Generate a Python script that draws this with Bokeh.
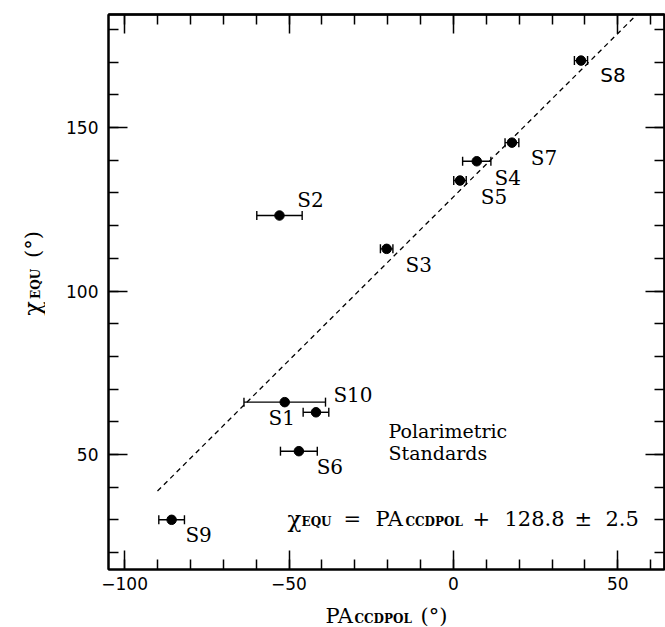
import math
import numpy as np
from bokeh.plotting import figure
from bokeh.layouts import column, row
from bokeh.models import (ColumnDataSource, Whisker, TeeHead, Label, LinearAxis,
                          FixedTicker, Range1d)
from bokeh.core.properties import value
from bokeh.embed import file_html
from bokeh.resources import INLINE

# ---------------- data ----------------
names = ["S1", "S2", "S3", "S4", "S5", "S6", "S7", "S8", "S9", "S10"]
pa_ccdpol = [-51.3, -52.9, -20.3, 7.1, 2.0, -47.0, 17.8, 38.8, -85.7, -41.8]
chi_equ = [66.0, 123.1, 112.9, 139.7, 133.8, 51.0, 145.4, 170.5, 30.0, 62.9]
pa_err = [12.4, 6.9, 1.9, 4.3, 1.9, 5.6, 2.1, 2.0, 3.9, 3.9]

fit_offset = 128.8
fit_err = 2.5
fit_pa = [-90.0, 70.0]

x_ticks = [-100, -50, 0, 50]
x_tick_labels = ["\u2212100", "\u221250", "0", "50"]
x_minor = list(range(-100, 70, 10))
y_ticks = [50, 100, 150]
y_tick_labels = ["50", "100", "150"]
y_minor = list(range(20, 190, 10))

XR = (-104.9, 64.2)
YR = (14.8, 184.6)

# ---------------- layout (canvas pixels) ----------------
W, H = 665, 627
YT_W = 45            # width of the y-title strip
MAIN_H = 597         # height of the main figure
FL, FR, FT, FB = 108, 664, 14, 569

def dx(px):
    return XR[0] + (px - FL) / (FR - FL) * (XR[1] - XR[0])

def dy(py):
    return YR[1] - (py - FT) / (FB - FT) * (YR[1] - YR[0])

SERIF = "DejaVu Serif"
SANS = "DejaVu Sans"

p = figure(width=W - YT_W, height=MAIN_H, output_backend="svg", toolbar_location=None,
           x_range=Range1d(*XR), y_range=Range1d(*YR),
           min_border_left=FL - YT_W, min_border_right=W - FR,
           min_border_top=FT, min_border_bottom=MAIN_H - FB)
p.grid.visible = False
p.outline_line_color = "black"
p.outline_line_width = 2
p.background_fill_color = "white"
p.border_fill_color = "white"

def style_axis(ax):
    ax.axis_line_color = "black"
    ax.axis_line_width = 2
    ax.major_tick_in = 19
    ax.major_tick_out = 0
    ax.minor_tick_in = 10
    ax.minor_tick_out = 0
    ax.major_tick_line_width = 1.5
    ax.minor_tick_line_width = 1.5
    ax.major_tick_line_color = "black"
    ax.minor_tick_line_color = "black"
    ax.major_label_text_font = SANS
    ax.major_label_text_font_size = "17px"
    ax.major_label_text_color = "black"

xa = p.xaxis[0]
xa.ticker = FixedTicker(ticks=x_ticks, minor_ticks=x_minor)
xa.major_label_overrides = {t: l for t, l in zip(x_ticks, x_tick_labels)}
style_axis(xa)
xa.major_label_standoff = 7

ya = p.yaxis[0]
ya.ticker = FixedTicker(ticks=y_ticks, minor_ticks=y_minor)
ya.major_label_overrides = {t: l for t, l in zip(y_ticks, y_tick_labels)}
style_axis(ya)
ya.major_label_standoff = 10

# tick-only axes on top and right (no labels): one for minor, one for major ticks
for side, majors, minors in (("above", x_ticks, x_minor), ("right", y_ticks, y_minor)):
    for tick_list, length in ((minors, 10), (majors, 19)):
        ax = LinearAxis(ticker=FixedTicker(ticks=[], minor_ticks=tick_list))
        ax.axis_line_color = "black"
        ax.axis_line_width = 2
        ax.major_tick_in = 0
        ax.major_tick_out = 0
        ax.minor_tick_in = length
        ax.minor_tick_out = 0
        ax.minor_tick_line_width = 1.5
        ax.minor_tick_line_color = "black"
        ax.major_label_standoff = 0
        p.add_layout(ax, side)

# ---------------- fit line ----------------
fx = np.array(fit_pa)
p.line(fx, fx + fit_offset, line_color="black", line_width=1.3, line_dash="5 4")

# ---------------- points with error bars ----------------
xs = np.array(pa_ccdpol)
ys = np.array(chi_equ)
es = np.array(pa_err)
src = ColumnDataSource(dict(x=xs, y=ys, lo=xs - es, hi=xs + es, name=names))
wh = Whisker(source=src, base="y", lower="lo", upper="hi", dimension="width",
             line_color="black", line_width=1.4,
             upper_head=TeeHead(size=9, line_color="black", line_width=1.4),
             lower_head=TeeHead(size=9, line_color="black", line_width=1.4))
p.add_layout(wh)
p.scatter("x", "y", source=src, size=9.5, color="black")

# point labels (offsets in pixels)
lab_dx = [-3, 31, 32, 31, 34, 31, 32, 32, 27, 37]
lab_dy = [16, -16, 16, 17, 16, 16, 15, 14, 15, -17]
serif_idx = [i for i, n in enumerate(names) if n != "S8"]
sans_idx = [i for i, n in enumerate(names) if n == "S8"]
for idx, font in ((serif_idx, SERIF), (sans_idx, SANS)):
    lsrc = ColumnDataSource(dict(x=xs[idx], y=ys[idx], t=[names[i] for i in idx],
                                 ox=[lab_dx[i] for i in idx], oy=[lab_dy[i] for i in idx]))
    p.text("x", "y", text="t", source=lsrc, x_offset="ox", y_offset="oy",
           text_font=value(font), text_font_size="20px", text_color="black",
           text_align="center", text_baseline="middle")

# ---------------- annotations inside the frame ----------------
def lab(px, py, text, size="20px", font=SERIF, style="normal"):
    p.add_layout(Label(x=dx(px), y=dy(py), text=text, text_font=font,
                       text_font_size=size, text_font_style=style,
                       text_color="black", text_align="left",
                       text_baseline="alphabetic"))

lab(388, 430, "Polarimetric", size="19px")
lab(388, 452, "Standards", size="19px")

lab(287, 518, "\u03c7", size="23px")
lab(301, 521, "EQU", size="12px", style="bold")
lab(343, 518, "=", size="21px")
lab(375, 518, "PA", size="21px")
lab(405, 521, "CCDPOL", size="12px", style="bold")
lab(472, 518, "+", size="21px")
lab(504, 518, "%.1f" % fit_offset, size="21px")
lab(574, 518, "\u00b1", size="21px")
lab(605, 518, "%.1f" % fit_err, size="21px")

# ---------------- axis titles (separate strips) ----------------
def strip(w, h):
    f = figure(width=w, height=h, output_backend="svg", toolbar_location=None,
               x_range=Range1d(0, w), y_range=Range1d(0, h),
               x_axis_location=None, y_axis_location=None,
               min_border=0, min_border_left=0, min_border_right=0,
               min_border_top=0, min_border_bottom=0)
    f.grid.visible = False
    f.outline_line_color = None
    f.background_fill_color = "white"
    f.border_fill_color = "white"
    return f

# y title strip: canvas x 0..YT_W, canvas y 0..MAIN_H
yf = strip(YT_W, MAIN_H)
def ytxt(cx, cy, text, size, style="normal"):
    yf.text(x=[cx], y=[MAIN_H - cy], text=[text], angle=math.pi / 2,
            text_font=value(SERIF), text_font_size=size, text_font_style=style,
            text_color="black", text_align="left", text_baseline="alphabetic")
ytxt(32, 324, "\u03c7", "24px")
ytxt(35, 306, "EQU", "12px", "bold")
ytxt(32, 262, "(\u00b0)", "21px")

# x title strip: canvas x 0..W, canvas y MAIN_H..H
XT_H = H - MAIN_H
xf = strip(W, XT_H)
def xtxt(cx, cy, text, size, style="normal"):
    xf.text(x=[cx], y=[H - cy], text=[text],
            text_font=value(SERIF), text_font_size=size, text_font_style=style,
            text_color="black", text_align="left", text_baseline="alphabetic")
xtxt(325, 615, "PA", "21px")
xtxt(354, 618, "CCDPOL", "12px", "bold")
xtxt(420, 615, "(\u00b0)", "21px")

layout = column(row(yf, p, spacing=0), xf, spacing=0)
open("out.html", "w").write(file_html(layout, INLINE))
